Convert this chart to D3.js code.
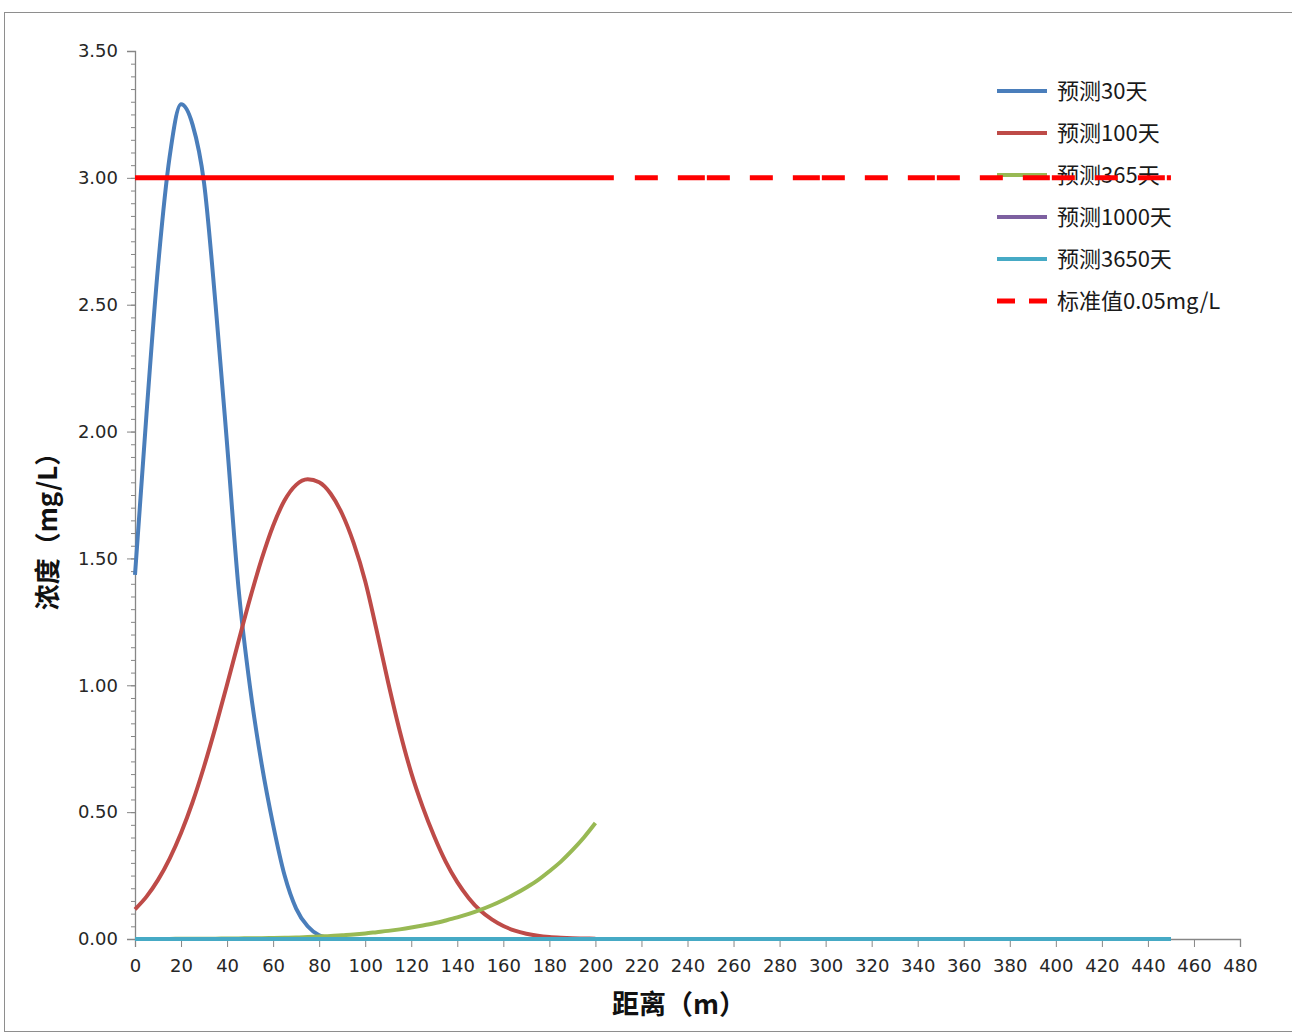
<!DOCTYPE html>
<html>
<head>
<meta charset="utf-8">
<script src="https://cdn.jsdelivr.net/npm/d3@7"></script>
<style>
  html, body { margin: 0; padding: 0; background: #ffffff; }
  svg { display: block; }
</style>
</head>
<body>
<svg id="chart" width="1292" height="1033"></svg>
<script>
// ---------- DATA ----------
const distance = [0,5,10,15,20,25,30,35,40,45,50,55,60,65,70,75,80,85,90,95,100,
  105,110,115,120,125,130,135,140,145,150,155,160,165,170,175,180,185,190,195,200];

const day30 = [1.435,2.07,2.65,3.08,3.29,3.21,2.98,2.50,1.95,1.38,0.99,0.69,0.45,0.25,0.12,0.05,0.015,0.004,0.001,0,0,
  0,0,0,0,0,0,0,0,0,0,0,0,0,0,0,0,0,0,0,0];

const day100 = [0.117,0.167,0.233,0.316,0.418,0.539,0.680,0.836,1.003,1.175,1.343,1.497,1.629,1.729,1.790,1.812,1.800,1.755,1.675,1.560,1.410,
  1.215,1.010,0.820,0.655,0.520,0.404,0.304,0.224,0.161,0.112,0.077,0.051,0.033,0.021,0.013,0.008,0.005,0.003,0.002,0.001];

const day365 = [0,0,0,0,0.001,0.001,0.001,0.001,0.002,0.002,0.003,0.003,0.004,0.005,0.006,0.008,0.010,0.012,0.015,0.018,0.022,
  0.027,0.032,0.038,0.045,0.053,0.062,0.073,0.085,0.099,0.115,0.133,0.154,0.177,0.203,0.232,0.267,0.305,0.350,0.400,0.457];

const distanceLong = [0,10,20,30,40,50,60,70,80,90,100,110,120,130,140,150,160,170,180,190,200,
  210,220,230,240,250,260,270,280,290,300,310,320,330,340,350,360,370,380,390,400,410,420,430,440,450];

const day1000 = [0,0,0,0,0,0,0,0,0,0,0,0,0,0,0,0,0,0,0,0,0,0,0,0,0,0,0,0,0,0,0,0,0,0,0,0,0,0,0,0,0,0,0,0,0,0];
const day3650 = [0,0,0,0,0,0,0,0,0,0,0,0,0,0,0,0,0,0,0,0,0,0,0,0,0,0,0,0,0,0,0,0,0,0,0,0,0,0,0,0,0,0,0,0,0,0];
const standard = [3,3,3,3,3,3,3,3,3,3,3,3,3,3,3,3,3,3,3,3,3,3,3,3,3,3,3,3,3,3,3,3,3,3,3,3,3,3,3,3,3,3,3,3,3,3];

const seriesNames = ["预测30天","预测100天","预测365天","预测1000天","预测3650天","标准值0.05mg/L"];
const seriesColors = ["#4A7EBB","#BE4B48","#98B954","#7D60A0","#46AAC5","#FF0000"];

const xTicks = [0,20,40,60,80,100,120,140,160,180,200,220,240,260,280,300,320,340,360,380,400,420,440,460,480];
const yTicks = [0,0.5,1.0,1.5,2.0,2.5,3.0,3.5];
const xTitle = "距离（m）";
const yTitle = "浓度（mg/L）";

// ---------- LAYOUT ----------
const svg = d3.select("#chart");
const x = d3.scaleLinear().domain([0, 480]).range([135, 1240]);
const y = d3.scaleLinear().domain([0, 3.5]).range([939, 51]);

// frame
svg.append("rect").attr("x", 4.5).attr("y", 12.5).attr("width", 1300).attr("height", 1019)
  .attr("fill", "#ffffff").attr("stroke", "#8e8e8e").attr("stroke-width", 1);

const axisColor = "#868686";
const labelFont = "'DejaVu Sans', 'Noto Sans CJK SC', sans-serif";

// Y axis: minor ticks
const minorVals = d3.range(0, 71).map(i => i * 0.05);
const yMinor = d3.axisLeft(y).tickValues(minorVals).tickSize(4).tickFormat("");
const gMinor = svg.append("g").attr("transform", "translate(135,0)").call(yMinor);
gMinor.select(".domain").remove();
gMinor.selectAll("line").attr("stroke", axisColor);

const yAxis = d3.axisLeft(y).tickValues(yTicks).tickSize(8).tickPadding(9)
  .tickFormat(d3.format(".2f"));
const gy = svg.append("g").attr("transform", "translate(135,0)").call(yAxis);
gy.select(".domain").attr("stroke", axisColor).attr("stroke-width", 1.3);
gy.selectAll("line").attr("stroke", axisColor);
gy.selectAll("text").attr("font-family", labelFont).attr("font-size", 18).attr("fill", "#262626");

const xAxis = d3.axisBottom(x).tickValues(xTicks).tickSize(8).tickPadding(12).tickFormat(d3.format("d"));
const gx = svg.append("g").attr("transform", "translate(0,939)").call(xAxis);
gx.select(".domain").attr("stroke", axisColor).attr("stroke-width", 1.3);
gx.selectAll("line").attr("stroke", axisColor);
gx.selectAll("text").attr("font-family", labelFont).attr("font-size", 18).attr("fill", "#262626");

// axis titles
svg.append("text").attr("x", 679).attr("y", 1014).attr("text-anchor", "middle")
  .attr("font-family", "'Noto Sans CJK SC', sans-serif").attr("font-weight", "bold")
  .attr("font-size", 27).attr("fill", "#111").text(xTitle);
svg.append("text").attr("transform", "translate(57,525) rotate(-90)").attr("text-anchor", "middle")
  .attr("font-family", "'Noto Sans CJK SC', sans-serif").attr("font-weight", "bold")
  .attr("font-size", 26).attr("fill", "#111").text(yTitle);

// ---------- LEGEND (drawn under lines) ----------
const legendY = d3.scalePoint().domain(seriesNames).range([91, 301]);
const lg = svg.append("g");
seriesNames.forEach((name, i) => {
  const ly = legendY(name);
  const ln = lg.append("line").attr("x1", 997).attr("x2", 1047).attr("y1", ly).attr("y2", ly)
    .attr("stroke", seriesColors[i]).attr("stroke-width", i === 5 ? 5 : 4);
  if (i === 5) ln.attr("stroke-dasharray", "18,14");
  lg.append("text").attr("x", 1057).attr("y", ly + 8)
    .attr("font-family", "'Noto Sans CJK SC', sans-serif").attr("font-size", 22)
    .attr("fill", "#1a1a1a").text(name);
});

// ---------- LINES ----------
const line = d3.line().x(d => x(d[0])).y(d => y(d[1])).curve(d3.curveMonotoneX);
const shortSeries = [day30, day100, day365];
const longSeries = [day1000, day3650];

shortSeries.forEach((vals, i) => {
  svg.append("path").datum(distance.map((d, j) => [d, vals[j]]))
    .attr("fill", "none").attr("stroke", seriesColors[i]).attr("stroke-width", 4)
    .attr("stroke-linejoin", "round").attr("d", line);
});
longSeries.forEach((vals, i) => {
  svg.append("path").datum(distanceLong.map((d, j) => [d, vals[j]]))
    .attr("fill", "none").attr("stroke", seriesColors[i + 3]).attr("stroke-width", 4)
    .attr("d", line);
});

// standard line: solid at start, then dashed
const solidLen = x(208) - x(0);
const dashPattern = [solidLen, 21];
for (let k = 0; k < 6; k++) dashPattern.push(23, 20, 27, 2, 23, 20);
svg.append("path").datum(distanceLong.map((d, j) => [d, standard[j]]))
  .attr("fill", "none").attr("stroke", seriesColors[5]).attr("stroke-width", 5)
  .attr("stroke-dasharray", dashPattern.join(","))
  .attr("d", d3.line().x(d => x(d[0])).y(d => y(d[1])));
</script>
</body>
</html>
